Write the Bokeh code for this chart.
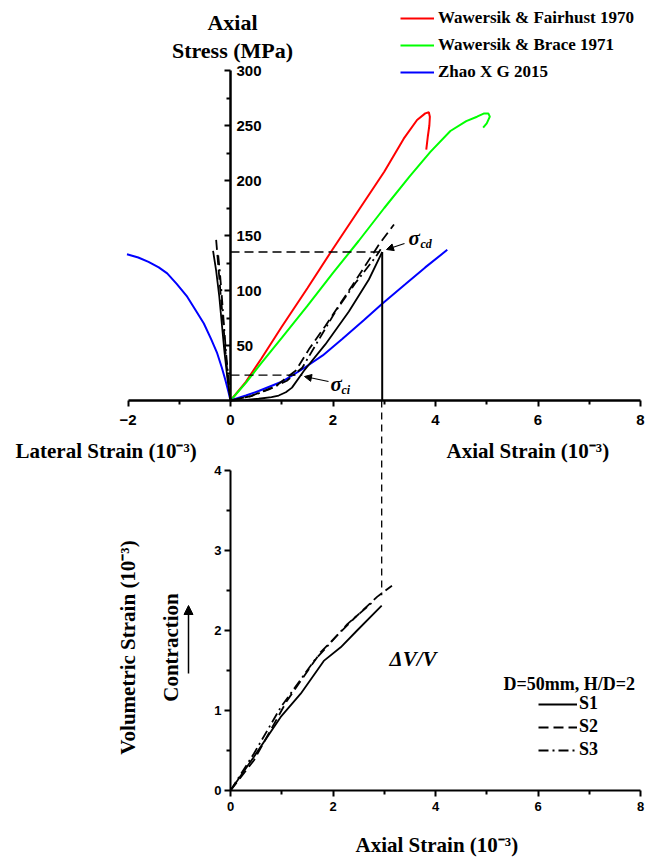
import math
from bokeh.plotting import figure
from bokeh.models import (Range1d, LinearAxis, FixedTicker, Label, Arrow, NormalHead,
                          Legend, LegendItem)
from bokeh.embed import file_html
from bokeh.resources import INLINE

# ---------------- data ----------------
# top panel: axial stress (MPa) vs strain (1e-3); negative strain = lateral
red_strain = [0, 0.3, 0.6, 1.0, 1.5, 2.0, 2.5, 3.0, 3.38, 3.64, 3.80, 3.87, 3.89, 3.88, 3.85, 3.82]
red_stress = [0, 17, 38, 67, 102, 138, 173, 208, 238, 255, 261, 262, 258, 250, 240, 228]

green_strain = [0, 0.3, 0.6, 1.0, 1.5, 2.0, 2.5, 3.0, 3.5, 3.9, 4.29, 4.6, 4.81, 4.95, 5.03, 5.06, 5.00, 4.93]
green_stress = [0, 16, 34, 57, 86, 116, 145, 175, 204, 226, 245, 254, 258, 261, 261, 258, 252, 248]

blue_strain = [-2.02, -1.8, -1.6, -1.4, -1.235, -1.05, -0.845, -0.68, -0.52, -0.38, -0.26, -0.17, -0.1, -0.04, 0,
               0.3, 0.55, 1.0, 1.4, 1.8, 2.18, 2.6, 2.96, 3.41, 3.8, 4.23]
blue_stress = [133, 130, 126, 121, 115.6, 106, 94.4, 82, 70, 56, 43, 30, 18.6, 8, 0,
               4.5, 8.6, 17, 28.4, 41, 55.9, 73, 88, 105.6, 121, 137]

s1_strain = [-0.34, -0.28, -0.22, -0.17, -0.12, -0.06, 0, 0.3, 0.55, 0.8, 0.94, 1.08, 1.2, 1.43, 1.85, 2.31, 2.70, 2.96]
s1_stress = [136, 118, 95, 70, 45, 20, 0, 0.5, 1.6, 3, 4.5, 7.5, 11.7, 26.8, 51, 81, 110, 135]
s2_strain = [-0.28, -0.23, -0.19, -0.14, -0.10, -0.05, 0, 0.4, 0.88, 1.27, 1.53, 1.85, 2.37, 2.90, 3.19]
s2_stress = [146, 118, 95, 70, 45, 20, 0, 4, 13, 27, 46.5, 67.7, 104, 142, 160]
s3_strain = [-0.24, -0.21, -0.17, -0.13, -0.09, -0.04, 0, 0.4, 0.75, 1.10, 1.40, 2.05, 2.44, 2.84, 2.93]
s3_stress = [132, 118, 95, 70, 45, 20, 0, 4, 10, 18, 29.8, 81, 107, 131, 137.5]

sigma_cd, eps_cd = 135, 2.96
sigma_ci, eps_ci = 23, 1.40
vol_cd = 2.44

# bottom panel: volumetric strain (1e-3) vs axial strain (1e-3)
v1_strain = [0, 0.455, 0.98, 1.37, 1.82, 2.15, 2.47, 2.95]
v1_vol = [0, 0.42, 0.92, 1.21, 1.62, 1.79, 2.0, 2.31]
v2_strain = [0, 0.455, 1.1, 1.76, 2.41, 2.86, 3.15]
v2_vol = [0, 0.375, 1.12, 1.73, 2.15, 2.42, 2.56]
v3_strain = [0, 0.455, 0.98, 1.63, 2.28, 2.80]
v3_vol = [0, 0.46, 1.04, 1.62, 2.08, 2.37]

strain_ticks_top = [-2, 0, 2, 4, 6, 8]
strain_minor_top = [-1, 1, 3, 5, 7]
stress_ticks = [50, 100, 150, 200, 250, 300]
stress_minor = [25, 75, 125, 175, 225, 275]
strain_ticks_bot = [0, 2, 4, 6, 8]
strain_minor_bot = [1, 3, 5, 7]
vol_ticks = [0, 1, 2, 3, 4]
vol_minor = [0.5, 1.5, 2.5, 3.5]

# ---------------- layout geometry (page pixels) ----------------
FIG_W, FIG_H = 657, 857
PX0, PY0 = 0, 0
X0_PX, X8_PX = 230, 640
S0_PY, S300_PY = 400, 70
V0_PY, V4_PY = 790, 470

kx = (X8_PX - X0_PX) / 8
x_start = -(X0_PX - PX0) / kx
x_end = x_start + FIG_W / kx
ks = (S0_PY - S300_PY) / 300
s_end = (S0_PY - PY0) / ks
s_start = s_end - FIG_H / ks
kv = (V0_PY - V4_PY) / 4
v_end = (V0_PY - PY0) / kv
v_start = v_end - FIG_H / kv


def X(px):
    return (px - X0_PX) / kx


def S(py):
    return (S0_PY - py) / ks


def V(py):
    return (V0_PY - py) / kv


p = figure(width=FIG_W, height=FIG_H, output_backend="svg", toolbar_location=None,
           x_range=Range1d(x_start, x_end), y_range=Range1d(s_start, s_end),
           x_axis_location=None, y_axis_location=None, min_border=0,
           outline_line_color=None, background_fill_color="white")
p.xgrid.visible = False
p.ygrid.visible = False
p.extra_y_ranges = {"vol": Range1d(v_start, v_end)}

SANS = "Liberation Sans"
SERIF = "Liberation Serif"

# ---------------- axes ----------------
def style_axis(ax, size, lw, tick_in, tick_out, mtick_in, mtick_out, standoff):
    ax.axis_line_width = lw
    ax.axis_line_color = "black"
    ax.major_tick_line_width = 2
    ax.minor_tick_line_width = 2
    ax.major_tick_in = tick_in
    ax.major_tick_out = tick_out
    ax.minor_tick_in = mtick_in
    ax.minor_tick_out = mtick_out
    ax.major_label_standoff = standoff
    ax.major_label_text_font = SANS
    ax.major_label_text_font_style = "bold"
    ax.major_label_text_font_size = f"{size}px"
    ax.major_label_text_color = "black"


ax_ty = LinearAxis(fixed_location=0, bounds=(0, 300),
                   ticker=FixedTicker(ticks=stress_ticks, minor_ticks=stress_minor))
style_axis(ax_ty, 15, 2.5, 6, 0, 4, 0, 6)
p.add_layout(ax_ty, "right")

ax_tx = LinearAxis(fixed_location=0, bounds=(-2, 8),
                   ticker=FixedTicker(ticks=strain_ticks_top, minor_ticks=strain_minor_top))
style_axis(ax_tx, 15, 2.5, 0, 6, 0, 4, 8)
p.add_layout(ax_tx, "below")

ax_by = LinearAxis(fixed_location=0, bounds=(0, 4), y_range_name="vol",
                   ticker=FixedTicker(ticks=vol_ticks, minor_ticks=vol_minor))
style_axis(ax_by, 13, 2, 0, 6, 0, 4, 3)
p.add_layout(ax_by, "left")

ax_bx = LinearAxis(fixed_location=0, bounds=(0, 8), y_range_name="vol",
                   ticker=FixedTicker(ticks=strain_ticks_bot, minor_ticks=strain_minor_bot))
style_axis(ax_bx, 13, 2, 0, 6, 0, 4, 5)
p.add_layout(ax_bx, "below")

# ---------------- curves ----------------
r_red = p.line(red_strain, red_stress, line_color="#ff0000", line_width=2)
r_green = p.line(green_strain, green_stress, line_color="#00ff00", line_width=2)
r_blue = p.line(blue_strain, blue_stress, line_color="#0000ff", line_width=2)

p.line(s1_strain, s1_stress, line_color="black", line_width=1.8)
p.line(s2_strain, s2_stress, line_color="black", line_width=1.8, line_dash="10 5")
p.line(s3_strain, s3_stress, line_color="black", line_width=1.8, line_dash="10 4 2 4")

# threshold guide lines
p.line([0, eps_cd], [sigma_cd, sigma_cd], line_color="black", line_width=1.3, line_dash="9 5")
p.line([0, eps_ci], [sigma_ci, sigma_ci], line_color="black", line_width=1.3, line_dash="9 5")
p.line([eps_cd, eps_cd], [0, sigma_cd], line_color="black", line_width=2)
# connector from top axis down to the volumetric curve (expressed in the "vol" range)
frac0 = (0 - s_start) / (s_end - s_start)
vol_at_top_axis = v_start + frac0 * (v_end - v_start)
p.line([eps_cd - 0.01, eps_cd - 0.01], [vol_at_top_axis, vol_cd], y_range_name="vol",
       line_color="black", line_width=1.3, line_dash="7 5")

r_v1 = p.line(v1_strain, v1_vol, y_range_name="vol", line_color="black", line_width=1.8)
r_v2 = p.line(v2_strain, v2_vol, y_range_name="vol", line_color="black", line_width=1.8, line_dash="10 5")
r_v3 = p.line(v3_strain, v3_vol, y_range_name="vol", line_color="black", line_width=1.8, line_dash="10 4 2 4")

# ---------------- legends ----------------
leg_top = Legend(items=[LegendItem(label="Wawersik & Fairhust 1970", renderers=[r_red]),
                        LegendItem(label="Wawersik & Brace 1971", renderers=[r_green]),
                        LegendItem(label="Zhao X G 2015", renderers=[r_blue])],
                 location=(400, 775), glyph_width=34, glyph_height=20, label_height=20,
                 spacing=7, padding=0, margin=0, label_standoff=4,
                 label_text_font=SERIF, label_text_font_style="bold", label_text_font_size="17px",
                 label_text_color="black",
                 background_fill_alpha=0, border_line_alpha=0)
p.add_layout(leg_top)

leg_bot = Legend(items=[LegendItem(label="S1", renderers=[r_v1]),
                        LegendItem(label="S2", renderers=[r_v2]),
                        LegendItem(label="S3", renderers=[r_v3])],
                 location=(538, 97), glyph_width=39, glyph_height=20, label_height=20,
                 spacing=2, padding=0, margin=0, label_standoff=2,
                 label_text_font=SERIF, label_text_font_style="bold", label_text_font_size="18px",
                 label_text_color="black",
                 background_fill_alpha=0, border_line_alpha=0)
p.add_layout(leg_bot)

# ---------------- texts ----------------
def lab(text, px, py, size, align="left", style="bold", angle=0, vol=False, font=SERIF):
    kw = dict(x=X(px), text=text, text_font=font, text_font_size=f"{size}px",
              text_font_style=style, text_align=align, text_baseline="middle",
              angle=angle, text_color="black")
    if vol:
        kw.update(y=V(py), y_range_name="vol")
    else:
        kw.update(y=S(py))
    p.add_layout(Label(**kw))


lab("Axial", 232, 22, 22, align="center")
lab("Stress (MPa)", 232, 50, 22, align="center")
lab("Lateral Strain (10\u207b\u00b3)", 15, 450, 21)
lab("Axial Strain (10\u207b\u00b3)", 446, 450, 21)
lab("Axial Strain (10\u207b\u00b3)", 355, 844, 21, vol=True)
lab("Volumetric Strain (10\u207b\u00b3)", 127, 647, 21, align="center", angle=math.pi / 2, vol=True)
lab("Contraction", 170, 647, 21, align="center", angle=math.pi / 2, vol=True)
lab("\u0394V/V", 389, 658, 21, style="bold italic", vol=True)
lab("D=50mm, H/D=2", 503, 683, 18, vol=True)

lab("\u03c3", 408, 237, 21, style="bold italic")
lab("cd", 420, 243, 12, style="bold italic")
lab("\u03c3", 330, 383, 21, style="bold italic")
lab("ci", 341, 389, 12, style="bold italic")

# arrows
p.add_layout(Arrow(x_start=X(404), y_start=S(243), x_end=X(386), y_end=S(249),
                   line_width=1.2, end=NormalHead(size=7, fill_color="black", line_color="black")))
p.add_layout(Arrow(x_start=X(328), y_start=S(381), x_end=X(304), y_end=S(376),
                   line_width=1.2, end=NormalHead(size=7, fill_color="black", line_color="black")))
p.add_layout(Arrow(x_start=X(188), y_start=V(673), x_end=X(188), y_end=V(605), y_range_name="vol",
                   line_width=1.5, end=NormalHead(size=9, fill_color="black", line_color="black")))

open("out.html", "w").write(file_html(p, INLINE))
